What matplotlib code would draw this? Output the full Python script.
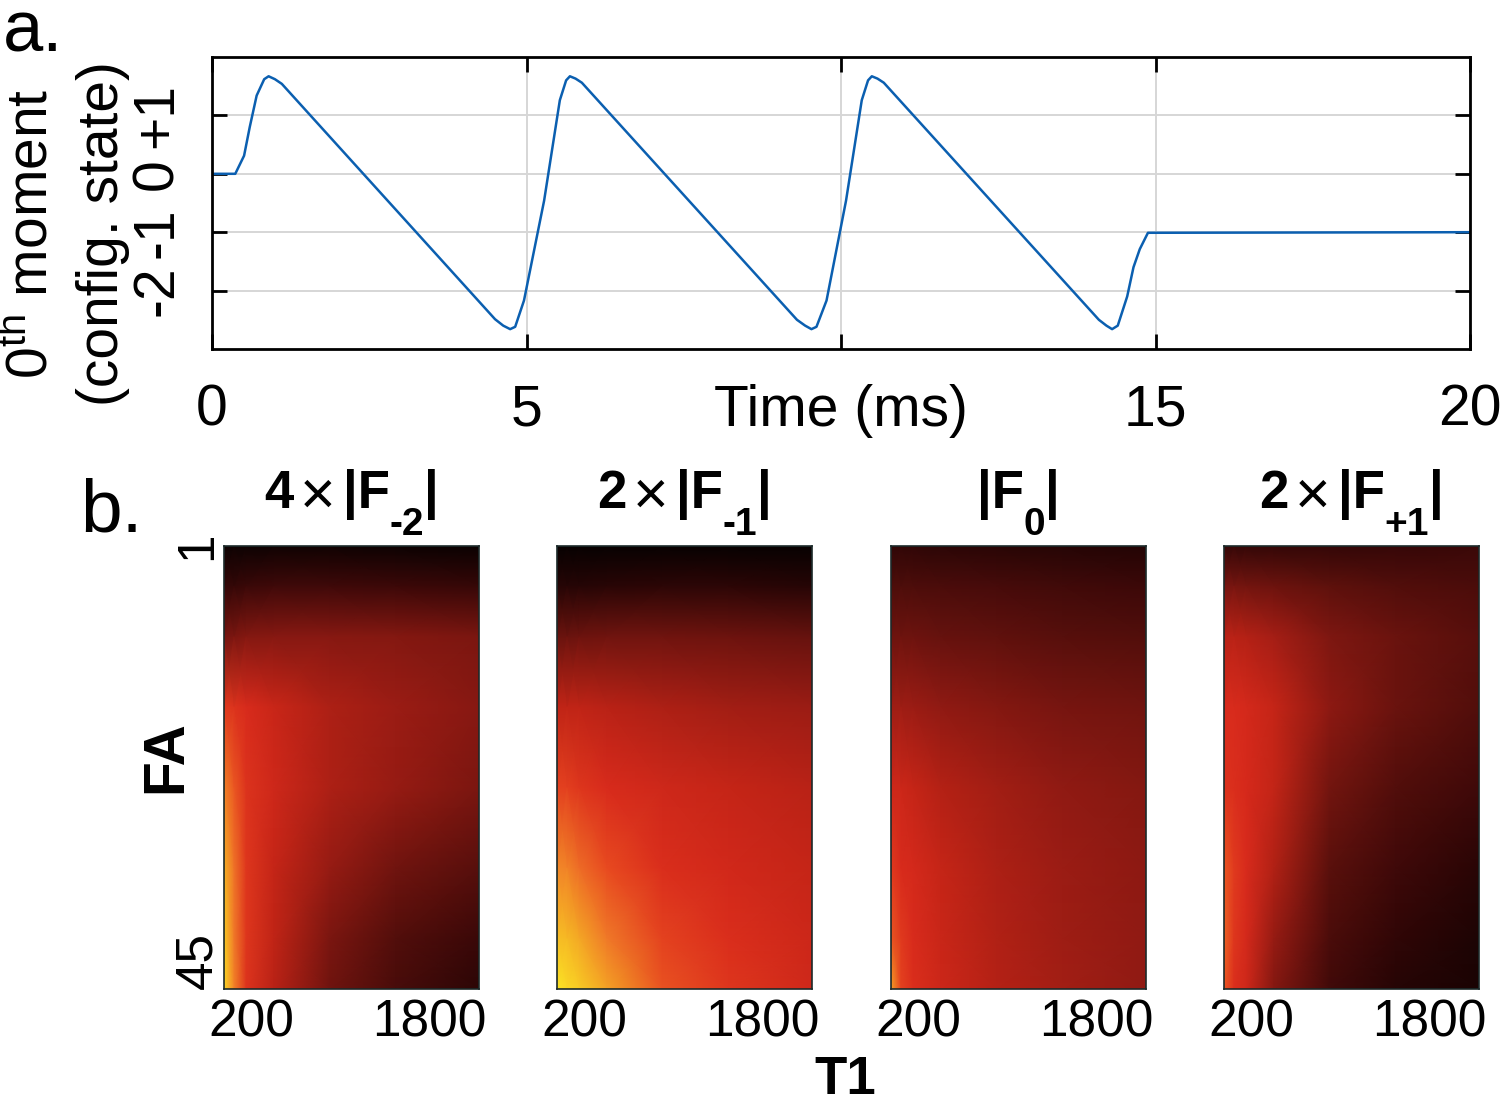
import matplotlib.pyplot as plt
import numpy as np
from matplotlib.colors import LinearSegmentedColormap

plt.rcParams['font.family'] = ['Liberation Sans', 'DejaVu Sans']
plt.rcParams['mathtext.fontset'] = 'custom'
plt.rcParams['mathtext.rm'] = 'Liberation Sans'
plt.rcParams['mathtext.bf'] = 'Liberation Sans:bold'
plt.rcParams['mathtext.it'] = 'Liberation Sans:italic'

# panel a: zeroth gradient moment (configuration state) vs time
time_ms = [0.0, 0.37, 0.51, 0.60, 0.71, 0.83, 0.90, 1.00, 1.11,
           4.50, 4.63, 4.74, 4.82, 4.96, 5.28, 5.53, 5.63, 5.69, 5.78, 5.88,
           9.30, 9.43, 9.53, 9.61, 9.77, 10.08, 10.33, 10.43, 10.49, 10.58, 10.68,
           14.10, 14.22, 14.31, 14.40, 14.55, 14.65, 14.75, 14.88, 20.0]
moment = [0.0, 0.0, 0.31, 0.80, 1.34, 1.62, 1.67, 1.62, 1.54,
          -2.49, -2.60, -2.66, -2.62, -2.17, -0.46, 1.26, 1.60, 1.67, 1.63, 1.56,
          -2.50, -2.60, -2.66, -2.62, -2.17, -0.46, 1.26, 1.60, 1.67, 1.63, 1.56,
          -2.50, -2.60, -2.66, -2.60, -2.10, -1.60, -1.29, -1.01, -1.0]
xtick_vals = [0, 5, 10, 15, 20]
xtick_text = ['0', '5', '', '15', '20']
ytick_vals = [-2, -1, 0, 1]
ytick_text = ['-2', '-1', '0', '+1']

# panel b: normalised state magnitudes sampled on a coarse (FA x T1) grid
t1_nodes = [-50, 40, 150, 400, 900, 1500, 2250]   # T1 0..2200 incl. half-pixel edges
fa_nodes = [1, 5, 10, 17, 25, 33, 40, 45]
f_m2 = [[0.05, 0.05, 0.05, 0.06, 0.06, 0.05, 0.04],
        [0.18, 0.18, 0.20, 0.22, 0.22, 0.21, 0.19],
        [0.42, 0.43, 0.45, 0.46, 0.46, 0.45, 0.43],
        [0.74, 0.72, 0.70, 0.64, 0.55, 0.50, 0.46],
        [0.86, 0.80, 0.72, 0.66, 0.55, 0.49, 0.43],
        [0.92, 0.84, 0.73, 0.62, 0.49, 0.40, 0.32],
        [0.96, 0.85, 0.73, 0.60, 0.43, 0.30, 0.20],
        [0.98, 0.86, 0.72, 0.58, 0.40, 0.26, 0.16]]
f_m1 = [[0.03, 0.03, 0.03, 0.03, 0.03, 0.03, 0.03],
        [0.14, 0.14, 0.14, 0.15, 0.16, 0.16, 0.14],
        [0.38, 0.38, 0.39, 0.40, 0.40, 0.39, 0.37],
        [0.60, 0.60, 0.60, 0.58, 0.55, 0.52, 0.50],
        [0.76, 0.75, 0.73, 0.70, 0.66, 0.62, 0.58],
        [0.87, 0.86, 0.83, 0.78, 0.71, 0.67, 0.62],
        [0.94, 0.93, 0.91, 0.85, 0.76, 0.71, 0.65],
        [1.00, 0.98, 0.96, 0.90, 0.79, 0.73, 0.66]]
f_0 = [[0.17, 0.17, 0.17, 0.16, 0.15, 0.14, 0.13],
       [0.28, 0.28, 0.28, 0.27, 0.25, 0.23, 0.21],
       [0.39, 0.39, 0.39, 0.37, 0.35, 0.32, 0.30],
       [0.51, 0.51, 0.50, 0.48, 0.45, 0.42, 0.40],
       [0.66, 0.65, 0.62, 0.57, 0.52, 0.48, 0.45],
       [0.74, 0.70, 0.68, 0.62, 0.55, 0.50, 0.47],
       [0.80, 0.74, 0.70, 0.64, 0.56, 0.51, 0.48],
       [0.90, 0.76, 0.71, 0.65, 0.57, 0.52, 0.48]]
f_p1 = [[0.18, 0.18, 0.18, 0.18, 0.18, 0.19, 0.20],
        [0.42, 0.42, 0.41, 0.39, 0.34, 0.30, 0.27],
        [0.58, 0.58, 0.57, 0.53, 0.44, 0.38, 0.32],
        [0.70, 0.70, 0.68, 0.62, 0.47, 0.38, 0.30],
        [0.72, 0.71, 0.69, 0.61, 0.41, 0.30, 0.22],
        [0.80, 0.74, 0.70, 0.56, 0.33, 0.22, 0.15],
        [0.82, 0.73, 0.68, 0.49, 0.27, 0.17, 0.11],
        [0.80, 0.71, 0.66, 0.45, 0.23, 0.14, 0.10]]
# title pieces: (text, kind) -> kind in 'bold', 'times', 'sub'
titles = [[('4', 'bold'), ('\u00d7', 'times'), ('|F', 'bold'), ('-2', 'sub'), ('|', 'bold')],
          [('2', 'bold'), ('\u00d7', 'times'), ('|F', 'bold'), ('-1', 'sub'), ('|', 'bold')],
          [('|F', 'bold'), ('0', 'sub'), ('|', 'bold')],
          [('2', 'bold'), ('\u00d7', 'times'), ('|F', 'bold'), ('+1', 'sub'), ('|', 'bold')]]
t1_ticks = [200, 1800]
fa_ticks = [1, 45]

cmap = LinearSegmentedColormap.from_list('darkhot', [
    (0.00, '#000000'), (0.12, '#200404'), (0.20, '#3a0808'), (0.33, '#5a100c'),
    (0.43, '#7a1610'), (0.50, '#9a1c14'), (0.60, '#c02416'), (0.70, '#d82a1c'),
    (0.78, '#e84a20'), (0.85, '#f07828'), (0.92, '#f5b024'), (1.00, '#fbe524')])

fig = plt.figure(figsize=(15, 11.06), dpi=100)
renderer = fig.canvas.get_renderer()

# ---- panel a ----
ax = fig.add_axes([212 / 1500, 1 - 349 / 1106, 1258 / 1500, 292 / 1106])
ax.plot(time_ms, moment, color='#0b5fb0', lw=1.8)
ax.set_xlim(0, 20)
ax.set_ylim(-3, 2)
ax.set_xticks(xtick_vals, xtick_text)
ax.set_yticks(ytick_vals, ytick_text, rotation=90, va='center')
ax.grid(True, color='#d6d6d6', lw=1.4)
ax.tick_params(direction='in', length=11, width=2, top=True, right=True,
               labelsize=41, colors='black')
ax.tick_params(axis='x', pad=25)
ax.tick_params(axis='y', pad=20)
for s in ax.spines.values():
    s.set_linewidth(2)
ax.annotate('Time (ms)', xy=(0.5, 0), xycoords='axes fraction', xytext=(0, -25),
            textcoords='offset points', ha='center', va='top', fontsize=41)
fig.text(31 / 1500, 1 - 234 / 1106, r'0$^{\mathrm{th}}$ moment', rotation=90,
         ha='center', va='center', fontsize=41)
fig.text(103 / 1500, 1 - 234 / 1106, '(config. state)', rotation=90,
         ha='center', va='center', fontsize=41)
fig.text(3 / 1500, 1 - 52 / 1106, 'a.', fontsize=52, va='baseline')


def draw_title(axh, pieces):
    objs, gaps = [], []
    for txt, kind in pieces:
        size = {'bold': 38, 'times': 44, 'sub': 28}[kind]
        weight = 'normal' if kind == 'times' else 'bold'
        dy = {'bold': 38, 'times': 32, 'sub': 11}[kind]
        objs.append(axh.annotate(txt, xy=(0.5, 1), xycoords='axes fraction',
                                 xytext=(0, dy), textcoords='offset pixels',
                                 ha='left', va='baseline', fontsize=size,
                                 fontweight=weight))
        gaps.append(7 if kind == 'times' else 0)
    widths = [o.get_window_extent(renderer).width + 2 * g for o, g in zip(objs, gaps)]
    x = -sum(widths) / 2
    for o, w, g in zip(objs, widths, gaps):
        o.xyann = (x + g, o.xyann[1])
        x += w


# ---- panel b ----
lefts = [224, 557, 891, 1224]
for i, (vals, title) in enumerate(zip([f_m2, f_m1, f_0, f_p1], titles)):
    axb = fig.add_axes([lefts[i] / 1500, 1 - 989 / 1106, 255 / 1500, 443 / 1106])
    axb.pcolormesh(t1_nodes, fa_nodes, np.array(vals), shading='gouraud',
                   cmap=cmap, vmin=0, vmax=1)
    axb.set_xlim(t1_nodes[0], t1_nodes[-1])
    axb.set_ylim(fa_nodes[-1], fa_nodes[0])
    axb.set_xticks(t1_ticks, [str(v) for v in t1_ticks])
    axb.tick_params(length=0, labelsize=37, pad=7)
    if i == 0:
        axb.set_yticks(fa_ticks, [str(v) for v in fa_ticks], rotation=90)
        axb.tick_params(axis='y', pad=1)
        labs = axb.get_yticklabels()
        labs[0].set_va('center')
        labs[1].set_va('bottom')
    else:
        axb.set_yticks([])
    for s in axb.spines.values():
        s.set_linewidth(1.2)
        s.set_color('#1c2a2a')
    draw_title(axb, title)

fig.text(80 / 1500, 1 - 531 / 1106, 'b.', fontsize=54, va='baseline')
fig.text(166 / 1500, 1 - 757 / 1106, 'FA', rotation=90, ha='center', va='center',
         fontsize=41, fontweight='bold')
fig.text(845 / 1500, 1 - 1105 / 1106, 'T1', ha='center', va='bottom',
         fontsize=38, fontweight='bold')

fig.savefig('out.png', dpi=100)
